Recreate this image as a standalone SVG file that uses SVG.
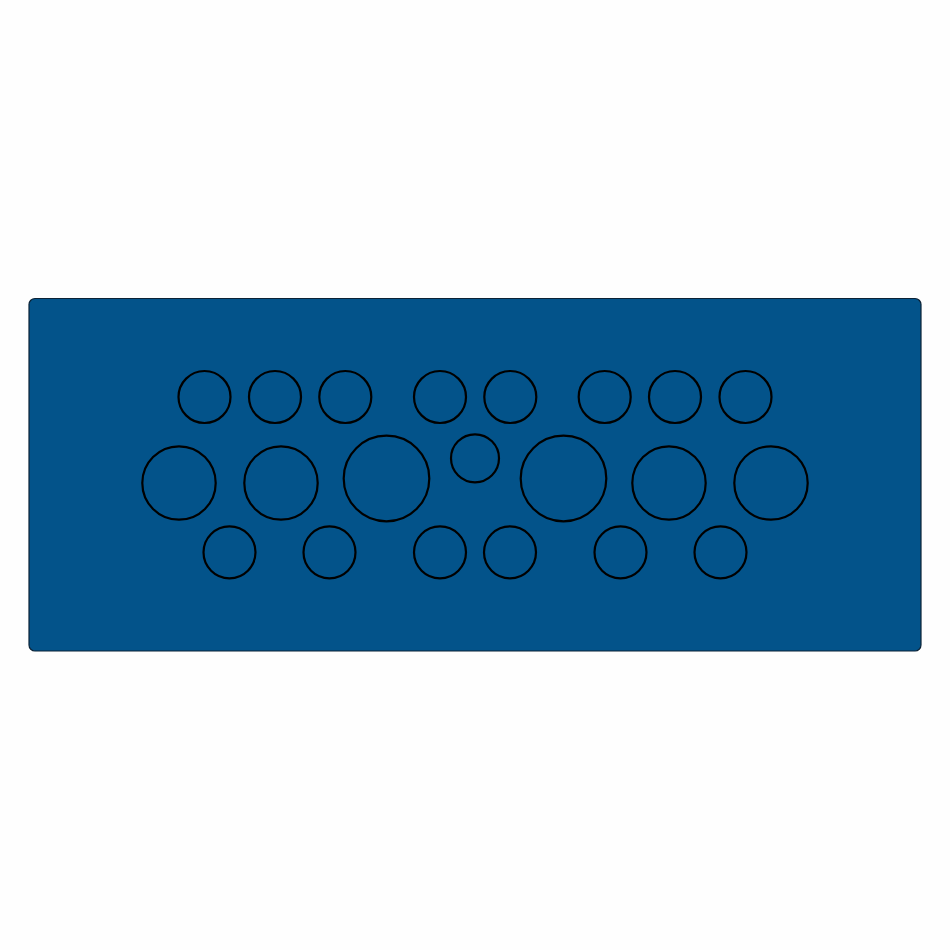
<svg xmlns="http://www.w3.org/2000/svg" width="950" height="950" viewBox="0 0 950 950">
<style>
.plate{fill:#03538a;stroke:#0b2236;stroke-width:1.2}
.hole{fill:none;stroke:#000;stroke-width:2.2}
</style>
<rect width="950" height="950" fill="#fefefe"/>
<g id="plate">
<rect class="plate" x="29" y="298.5" width="892" height="352.5" rx="6" ry="6"/>
</g>
<g id="holes-top">
<circle class="hole" cx="204.5" cy="397" r="26"/>
<circle class="hole" cx="275" cy="397" r="26"/>
<circle class="hole" cx="345.3" cy="397" r="26"/>
<circle class="hole" cx="440" cy="397" r="26"/>
<circle class="hole" cx="510.3" cy="397" r="26"/>
<circle class="hole" cx="604.7" cy="397" r="26"/>
<circle class="hole" cx="675" cy="397" r="26"/>
<circle class="hole" cx="745.5" cy="397" r="26"/>
</g>
<g id="holes-middle">
<circle class="hole" cx="179" cy="483" r="36.7"/>
<circle class="hole" cx="281" cy="483" r="36.7"/>
<circle class="hole" cx="386.5" cy="478.5" r="42.8"/>
<circle class="hole" cx="475" cy="458.3" r="24"/>
<circle class="hole" cx="563.5" cy="478.5" r="42.8"/>
<circle class="hole" cx="669" cy="483" r="36.7"/>
<circle class="hole" cx="771" cy="483" r="36.7"/>
</g>
<g id="holes-bottom">
<circle class="hole" cx="229.5" cy="552.3" r="26"/>
<circle class="hole" cx="329.5" cy="552.3" r="26"/>
<circle class="hole" cx="440" cy="552.3" r="26"/>
<circle class="hole" cx="510" cy="552.3" r="26"/>
<circle class="hole" cx="620.5" cy="552.3" r="26"/>
<circle class="hole" cx="720.5" cy="552.3" r="26"/>
</g>
</svg>
